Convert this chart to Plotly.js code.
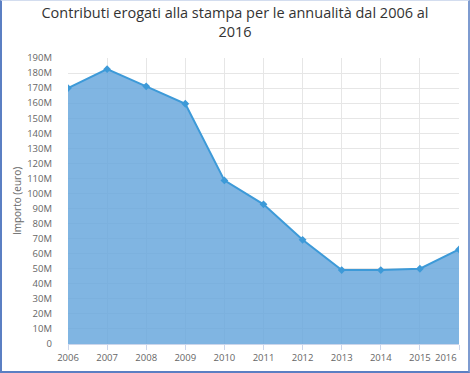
<!DOCTYPE html>
<html>
<head>
<meta charset="utf-8">
<script src="https://cdn.plot.ly/plotly-3.0.1.min.js"></script>
<style>
  html, body { margin: 0; padding: 0; background: #fff; }
  #wrap { position: relative; width: 470px; height: 373px; overflow: hidden; }
  #chart { position: absolute; left: 0; top: 0; width: 470px; height: 373px; }
  #frame { position: absolute; left: 0; top: 0; width: 470px; height: 373px; box-sizing: border-box;
           border-left: 2px solid #5b7fc3; border-right: 2px solid #7e9bd0; border-bottom: 2px solid #5b7fc3;
           border-top: 1px solid #d3ddef; pointer-events: none; }
</style>
</head>
<body>
<div id="wrap">
  <div id="chart"></div>
  <div id="frame"></div>
</div>
<script>
const titleText = "Contributi erogati alla stampa per le annualità dal 2006 al<br>2016";
const yAxisTitle = "Importo (euro)";
const years = [2006, 2007, 2008, 2009, 2010, 2011, 2012, 2013, 2014, 2015, 2016];
const contributi = [170e6, 182.6e6, 171.2e6, 159.6e6, 108.7e6, 92.8e6, 69.2e6, 49.1e6, 49.1e6, 50.0e6, 62.8e6];
const yTickVals = [0, 10e6, 20e6, 30e6, 40e6, 50e6, 60e6, 70e6, 80e6, 90e6, 100e6, 110e6, 120e6, 130e6, 140e6, 150e6, 160e6, 170e6, 180e6, 190e6];
const yTickText = ["0", "10M", "20M", "30M", "40M", "50M", "60M", "70M", "80M", "90M", "100M", "110M", "120M", "130M", "140M", "150M", "160M", "170M", "180M", "190M"];
const xTickText = ["2006", "2007", "2008", "2009", "2010", "2011", "2012", "2013", "2014", "2015", ""];
const lastLabel = "2016";

const tickFont = { family: "Open Sans, sans-serif", size: 9.5, color: "#666666" };

const trace = {
  x: years,
  y: contributi,
  type: "scatter",
  mode: "lines+markers",
  fill: "tozeroy",
  fillcolor: "rgba(100,165,220,0.82)",
  line: { color: "#3d9ad8", width: 2 },
  marker: { symbol: "diamond", size: 6, color: "#3d9ad8" },
  hoverinfo: "x+y"
};

const layout = {
  width: 470,
  height: 373,
  margin: { l: 68, r: 11, t: 58, b: 28.5, pad: 0 },
  paper_bgcolor: "#ffffff",
  plot_bgcolor: "#ffffff",
  showlegend: false,
  title: {
    text: titleText,
    font: { family: "Open Sans, sans-serif", size: 14.5, color: "#333333" },
    x: 0.5, xanchor: "center", xref: "container",
    y: 0.951, yanchor: "top", yref: "container"
  },
  xaxis: {
    range: [2006, 2016],
    tickvals: years,
    ticktext: xTickText,
    tickfont: tickFont,
    ticks: "outside",
    ticklen: 5,
    tickcolor: "#ccd6eb",
    showgrid: true,
    gridcolor: "#e6e6e6",
    gridwidth: 1,
    zeroline: false,
    showline: true,
    linecolor: "#ccd6eb",
    linewidth: 1,
    fixedrange: true
  },
  yaxis: {
    range: [0, 190e6],
    tickvals: yTickVals,
    ticktext: yTickText,
    tickfont: tickFont,
    ticks: "",
    ticklabelstandoff: 15,
    showgrid: true,
    gridcolor: "#e6e6e6",
    gridwidth: 1,
    zeroline: false,
    showline: false,
    title: { text: yAxisTitle, font: { family: "Open Sans, sans-serif", size: 10, color: "#666666" }, standoff: 3 },
    fixedrange: true
  },
  annotations: [{
    x: years[years.length - 1],
    xref: "x",
    y: 0,
    yref: "paper",
    yshift: -4.5,
    text: lastLabel,
    showarrow: false,
    xanchor: "right",
    yanchor: "top",
    font: tickFont
  }]
};

Plotly.newPlot("chart", [trace], layout, { displayModeBar: false, staticPlot: true });
</script>
</body>
</html>
